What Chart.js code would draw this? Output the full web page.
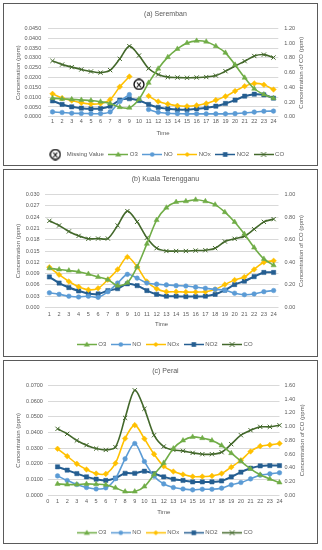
<!DOCTYPE html>
<html>
<head>
<meta charset="utf-8">
<script src="https://cdn.jsdelivr.net/npm/chart.js@4.4.0/dist/chart.umd.min.js"></script>
<style>
  body { margin: 0; background: #fff; }
  .panel { position: absolute; left: 3px; width: 315px; border: 1.5px solid #5a5a5a; box-sizing: border-box; overflow: hidden; background: #fff; }
  .panel canvas { display: block; }
</style>
</head>
<body>
<div class="panel" style="top:3px;height:163px"><canvas id="chart-a"></canvas></div>
<div class="panel" style="top:169px;height:188px"><canvas id="chart-b"></canvas></div>
<div class="panel" style="top:360px;height:184px"><canvas id="chart-c"></canvas></div>
<script>
var hours = ["1", "2", "3", "4", "5", "6", "7", "8", "9", "10", "11", "12",
  "13", "14", "15", "16", "17", "18", "19", "20", "21", "22", "23", "24"];
var hoursPerai = ["0"].concat(hours);

// (a) Seremban
var o3Seremban = [0.0095, 0.0091, 0.0089, 0.0086, 0.0083, 0.0077, 0.0068, 0.0049, 0.0046, 0.0090, 0.0173, 0.0245,
  0.0304, 0.0346, 0.0376, 0.0387, 0.0383, 0.0360, 0.0326, 0.0265, 0.0199, 0.0143, 0.0114, 0.0095];
var noSeremban = [0.0025, 0.0022, 0.0018, 0.0017, 0.0016, 0.0016, 0.0025, 0.0078, 0.0113, null, 0.0037, 0.0023,
  0.0018, 0.0016, 0.0015, 0.0015, 0.0015, 0.0015, 0.0015, 0.0016, 0.0019, 0.0024, 0.0028, 0.0029];
var noxSeremban = [0.0117, 0.0095, 0.0083, 0.0071, 0.0065, 0.0068, 0.0088, 0.0153, 0.0205, null, 0.0106, 0.0078,
  0.0065, 0.0056, 0.0054, 0.0058, 0.0068, 0.0085, 0.0104, 0.0131, 0.0156, 0.0170, 0.0163, 0.0139];
var no2Seremban = [0.0081, 0.0063, 0.0051, 0.0044, 0.0041, 0.0042, 0.0054, 0.0085, 0.0092, 0.0083, 0.0063, 0.0048,
  0.0041, 0.0037, 0.0037, 0.0041, 0.0046, 0.0054, 0.0068, 0.0085, 0.0105, 0.0115, 0.0112, 0.0095];
var coSeremban = [0.760, 0.710, 0.675, 0.643, 0.616, 0.600, 0.634, 0.788, 0.960, 0.833, 0.657, 0.575,
  0.539, 0.534, 0.530, 0.534, 0.540, 0.560, 0.620, 0.690, 0.756, 0.826, 0.845, 0.805];
var missingSeremban = [null, null, null, null, null, null, null, null, null, 0.0165, null, null,
  null, null, null, null, null, null, null, null, null, null, null, null];

// (b) Kuala Terengganu
var o3Kt = [0.0104, 0.0101, 0.0098, 0.0095, 0.0089, 0.0081, 0.0074, 0.0058, 0.0066, 0.0108, 0.0169, 0.0232,
  0.0265, 0.0280, 0.0282, 0.0286, 0.0282, 0.0273, 0.0253, 0.0227, 0.0195, 0.0159, 0.0129, 0.0112];
var noKt = [0.0039, 0.0035, 0.0030, 0.0028, 0.0030, 0.0027, 0.0042, 0.0065, 0.0088, 0.0078, 0.0065, 0.0062,
  0.0060, 0.0058, 0.0057, 0.0054, 0.0051, 0.0048, 0.0046, 0.0038, 0.0034, 0.0036, 0.0042, 0.0045];
var noxKt = [0.0107, 0.0087, 0.0069, 0.0055, 0.0047, 0.0051, 0.0074, 0.0101, 0.0134, 0.0108, 0.0069, 0.0050,
  0.0042, 0.0042, 0.0041, 0.0041, 0.0042, 0.0048, 0.0061, 0.0073, 0.0081, 0.0101, 0.0120, 0.0124];
var no2Kt = [0.0081, 0.0065, 0.0053, 0.0044, 0.0037, 0.0036, 0.0045, 0.0050, 0.0063, 0.0058, 0.0045, 0.0035,
  0.0030, 0.0030, 0.0029, 0.0029, 0.0030, 0.0035, 0.0046, 0.0061, 0.0070, 0.0082, 0.0093, 0.0093];
var coKt = [0.767, 0.726, 0.673, 0.634, 0.608, 0.610, 0.610, 0.726, 0.853, 0.758, 0.617, 0.525,
  0.500, 0.500, 0.500, 0.504, 0.507, 0.525, 0.584, 0.608, 0.631, 0.693, 0.758, 0.782];

// (c) Perai  (hour 0 has no reading)
var o3Perai = [null, 0.0072, 0.0068, 0.0068, 0.0072, 0.0070, 0.0066, 0.0047, 0.0023, 0.0023, 0.0055, 0.0132, 0.0206,
  0.0298, 0.0349, 0.0372, 0.0364, 0.0349, 0.0317, 0.0268, 0.0217, 0.0168, 0.0130, 0.0104, 0.0081];
var noPerai = [null, 0.0123, 0.0094, 0.0068, 0.0049, 0.0040, 0.0047, 0.0106, 0.0232, 0.0330, 0.0215, 0.0121, 0.0072,
  0.0049, 0.0040, 0.0034, 0.0038, 0.0038, 0.0045, 0.0066, 0.0081, 0.0104, 0.0128, 0.0136, 0.0143];
var noxPerai = [null, 0.0296, 0.0249, 0.0200, 0.0164, 0.0138, 0.0136, 0.0204, 0.0362, 0.0447, 0.0360, 0.0262, 0.0185,
  0.0151, 0.0132, 0.0119, 0.0119, 0.0123, 0.0138, 0.0179, 0.0223, 0.0279, 0.0313, 0.0321, 0.0330];
var no2Perai = [null, 0.0181, 0.0160, 0.0138, 0.0117, 0.0102, 0.0094, 0.0109, 0.0140, 0.0140, 0.0153, 0.0138, 0.0117,
  0.0102, 0.0094, 0.0085, 0.0085, 0.0085, 0.0091, 0.0117, 0.0147, 0.0172, 0.0187, 0.0189, 0.0189];
var coPerai = [null, 0.968, 0.895, 0.798, 0.730, 0.680, 0.660, 0.700, 1.128, 1.530, 1.260, 0.875, 0.710,
  0.660, 0.647, 0.617, 0.598, 0.598, 0.627, 0.744, 0.875, 0.948, 0.997, 0.997, 1.020];

const txtColor = "#595959";
const gridColor = "#d9d9d9";
const colO3 = "#70ad47";
const colNO = "#5b9bd5";
const colNOx = "#ffc000";
const colNO2 = "#255e91";
const colCO = "#43682b";
const legendPad = 6;

Chart.defaults.font.family = "'Liberation Sans', Arial, sans-serif";

function drawMarker(ctx, style, x, y, color) {
  ctx.fillStyle = color;
  ctx.strokeStyle = color;
  ctx.beginPath();
  if (style == "triangle") {
    ctx.moveTo(x, y - 3);
    ctx.lineTo(x + 3, y + 2);
    ctx.lineTo(x - 3, y + 2);
    ctx.closePath();
    ctx.fill();
  } else if (style == "circle") {
    ctx.arc(x, y, 2.2, 0, Math.PI * 2);
    ctx.fill();
  } else if (style == "rectRot") {
    ctx.moveTo(x, y - 2.6);
    ctx.lineTo(x + 2.6, y);
    ctx.lineTo(x, y + 2.6);
    ctx.lineTo(x - 2.6, y);
    ctx.closePath();
    ctx.fill();
  } else if (style == "rect") {
    ctx.fillRect(x - 2.3, y - 2.3, 4.6, 4.6);
  } else {
    ctx.lineWidth = 1;
    ctx.moveTo(x - 2.5, y - 2.5);
    ctx.lineTo(x + 2.5, y + 2.5);
    ctx.moveTo(x + 2.5, y - 2.5);
    ctx.lineTo(x - 2.5, y + 2.5);
    ctx.stroke();
  }
}

// line + marker sample for the legend, like the Excel one
function makeIcon(color, style) {
  var c = document.createElement("canvas");
  c.width = 20;
  c.height = 9;
  var ctx = c.getContext("2d");
  ctx.strokeStyle = color;
  ctx.lineWidth = 1.5;
  ctx.beginPath();
  ctx.moveTo(0, 4.5);
  ctx.lineTo(20, 4.5);
  ctx.stroke();
  drawMarker(ctx, style, 10, 4.5, color);
  return c;
}

function makeMissingIcon() {
  var c = document.createElement("canvas");
  c.width = 12;
  c.height = 12;
  var ctx = c.getContext("2d");
  ctx.fillStyle = "#fff";
  ctx.strokeStyle = "#000";
  ctx.lineWidth = 1.3;
  ctx.beginPath();
  ctx.arc(6, 6, 5, 0, Math.PI * 2);
  ctx.fill();
  ctx.stroke();
  ctx.fillStyle = "#000";
  ctx.font = "bold 8px 'Liberation Sans', Arial";
  ctx.textAlign = "center";
  ctx.textBaseline = "middle";
  ctx.fillText("X", 6, 6.5);
  return c;
}

function lineSet(label, data, color, style, radius, width, axis) {
  return {
    label: label,
    data: data,
    borderColor: color,
    backgroundColor: color,
    borderWidth: width,
    pointStyle: style,
    pointRadius: radius,
    pointBorderWidth: style == "crossRot" ? 1 : 0.5,
    pointBackgroundColor: color,
    pointBorderColor: color,
    tension: 0.3,
    yAxisID: axis,
    legendIcon: makeIcon(color, style)
  };
}

function pollutantSets(o3, no, nox, no2, co) {
  return [
    lineSet("O3", o3, colO3, "triangle", 3, 1.6, "y"),
    lineSet("NO", no, colNO, "circle", 2.3, 1.6, "y"),
    lineSet("NOx", nox, colNOx, "rectRot", 2.8, 1.6, "y"),
    lineSet("NO2", no2, colNO2, "rect", 3, 2, "y"),
    lineSet("CO", co, colCO, "crossRot", 3, 1.6, "y1")
  ];
}

// title on the right axis reads bottom-to-top in the original
var rightTitlePlugin = {
  id: "rightTitle",
  afterDraw: function(chart, args, opts) {
    var ctx = chart.ctx;
    var area = chart.chartArea;
    ctx.save();
    ctx.translate(opts.x, (area.top + area.bottom) / 2);
    ctx.rotate(-Math.PI / 2);
    ctx.font = "6px 'Liberation Sans', Arial, sans-serif";
    ctx.fillStyle = txtColor;
    ctx.textAlign = "center";
    ctx.textBaseline = "middle";
    ctx.fillText(opts.text, 0, 0);
    ctx.restore();
  }
};

function makeChart(id, labels, datasets, p) {
  var canvas = document.getElementById(id);
  var W = 312;
  var legendTop = p.legendY - legendPad - 3;
  var legendH = 6 + legendPad + 10;
  var H = Math.ceil(legendTop + legendH);
  canvas.width = W;
  canvas.height = H;
  canvas.style.width = W + "px";
  canvas.style.height = H + "px";
  var padL = p.leftTitleX - 3.6;

  return new Chart(canvas, {
    type: "line",
    data: { labels: labels, datasets: datasets },
    plugins: [rightTitlePlugin],
    options: {
      responsive: false,
      animation: false,
      layout: { padding: { left: padL, right: 0, top: 0, bottom: H - (legendTop + legendH) } },
      scales: {
        x: {
          offset: p.offset,
          grid: { display: false, drawTicks: false },
          border: { display: false },
          ticks: { color: txtColor, font: { size: 5.5 }, padding: p.xTickPad, autoSkip: false, maxRotation: 0 },
          title: {
            display: true,
            text: "Time",
            color: txtColor,
            font: { size: 6 },
            padding: { top: 0, bottom: legendTop - p.timeY - 3.6 }
          },
          afterFit: function(s) {
            s.height = legendTop - p.plotB;
          }
        },
        y: {
          min: 0,
          max: p.yMax,
          grid: { color: gridColor, drawTicks: false },
          border: { display: false },
          ticks: {
            stepSize: p.yStep,
            color: txtColor,
            font: { size: 5.5 },
            padding: p.yTickPad,
            callback: function(v) {
              return v.toFixed(p.yDec);
            }
          },
          title: { display: true, text: "Concentration (ppm)", color: txtColor, font: { size: 6 }, padding: 0 },
          afterFit: function(s) {
            s.width = p.plotL - padL;
          }
        },
        y1: {
          position: "right",
          min: 0,
          max: p.coMax,
          grid: { display: false, drawTicks: false },
          border: { display: false },
          ticks: {
            stepSize: 0.2,
            color: txtColor,
            font: { size: 5.5 },
            padding: p.y1TickPad,
            callback: function(v) {
              return v.toFixed(2);
            }
          },
          afterFit: function(s) {
            s.width = W - p.plotR;
          }
        }
      },
      plugins: {
        title: {
          display: true,
          text: p.title,
          color: txtColor,
          font: { size: 7, weight: "normal" },
          padding: { top: p.titleY - 4.2, bottom: p.plotT - p.titleY - 4.2 }
        },
        legend: {
          position: "bottom",
          labels: {
            usePointStyle: true,
            pointStyleWidth: 17,
            padding: legendPad,
            color: txtColor,
            font: { size: 6 },
            generateLabels: function(chart) {
              var items = Chart.defaults.plugins.legend.labels.generateLabels(chart);
              items.forEach(function(item) {
                item.pointStyle = chart.data.datasets[item.datasetIndex].legendIcon;
              });
              return items;
            }
          }
        },
        tooltip: { enabled: false },
        rightTitle: { x: p.rightTitleX, text: "Concentration of CO (ppm)" }
      }
    }
  });
}

var missingIcon = makeMissingIcon();
var setsA = [{
  label: "Missing Value",
  data: missingSeremban,
  showLine: false,
  pointStyle: missingIcon,
  pointRadius: 5,
  borderColor: "#000",
  backgroundColor: "#fff",
  yAxisID: "y",
  legendIcon: missingIcon
}].concat(pollutantSets(o3Seremban, noSeremban, noxSeremban, no2Seremban, coSeremban));

makeChart("chart-a", hours, setsA, {
  title: "(a) Seremban", offset: true,
  yMax: 0.045, yStep: 0.005, yDec: 4, coMax: 1.2,
  plotL: 43.7, plotR: 274.3, plotT: 24.5, plotB: 112.8,
  titleY: 10.5, leftTitleX: 14.5, rightTitleX: 297.5,
  yTickPad: 6.5, y1TickPad: 6, xTickPad: 1.5, timeY: 129.5, legendY: 150.5
});

makeChart("chart-b", hours, pollutantSets(o3Kt, noKt, noxKt, no2Kt, coKt), {
  title: "(b) Kuala Terengganu", offset: true,
  yMax: 0.03, yStep: 0.003, yDec: 3, coMax: 1.0,
  plotL: 40.5, plotR: 274.5, plotT: 24.5, plotB: 137.5,
  titleY: 9.5, leftTitleX: 14.5, rightTitleX: 297.8,
  yTickPad: 5, y1TickPad: 6, xTickPad: 3.7, timeY: 154.5, legendY: 174.5
});

makeChart("chart-c", hoursPerai, pollutantSets(o3Perai, noPerai, noxPerai, no2Perai, coPerai), {
  title: "(c) Perai", offset: false,
  yMax: 0.07, yStep: 0.01, yDec: 4, coMax: 1.6,
  plotL: 43.9, plotR: 275.5, plotT: 24.5, plotB: 134.2,
  titleY: 10.5, leftTitleX: 14.5, rightTitleX: 298.8,
  yTickPad: 5, y1TickPad: 5, xTickPad: 3.3, timeY: 151.2, legendY: 171.8
});
</script>
</body>
</html>
